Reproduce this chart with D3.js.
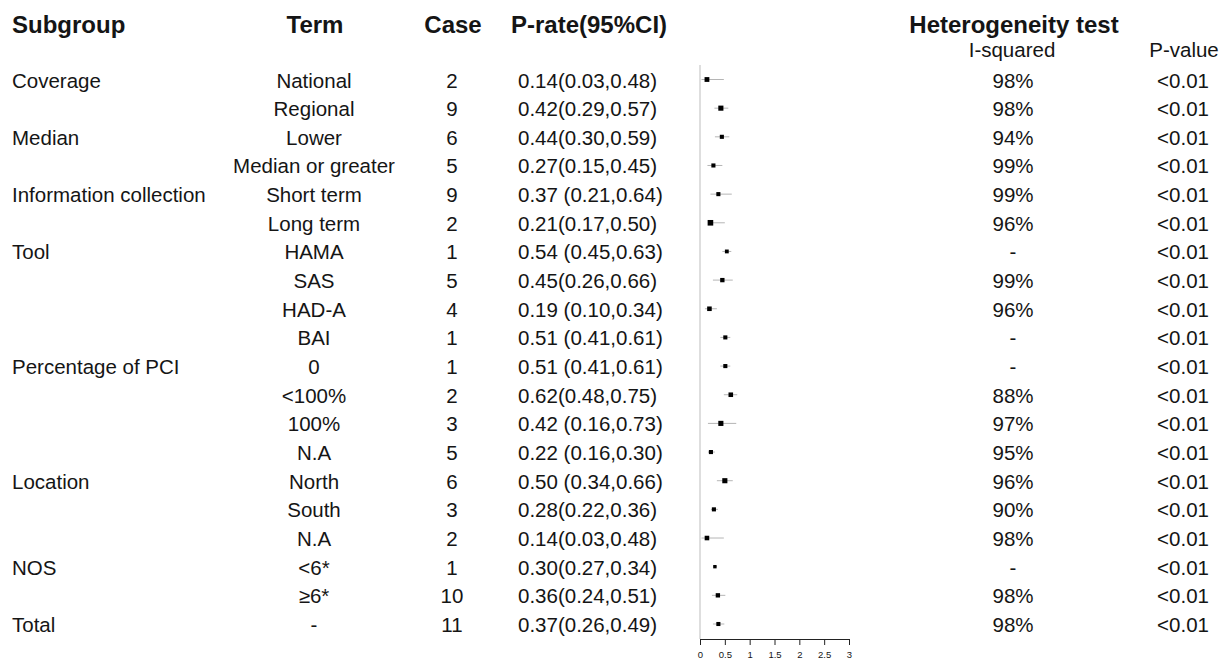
<!DOCTYPE html>
<html>
<head>
<meta charset="utf-8">
<script src="https://cdn.jsdelivr.net/npm/d3@7/dist/d3.min.js"></script>
<style>
  body { margin: 0; background: #fff; }
  svg text { font-family: "Liberation Sans", Arial, sans-serif; fill: #151515; }
</style>
</head>
<body>
<svg id="canvas" width="1226" height="662"></svg>
<script>
// rows of the subgroup table
let subgroups = ['Coverage', '', 'Median', '', 'Information collection', '', 'Tool', '', '', '',
                 'Percentage of PCI', '', '', '', 'Location', '', '', 'NOS', '', 'Total']
let terms = ['National', 'Regional', 'Lower', 'Median or greater', 'Short term', 'Long term',
             'HAMA', 'SAS', 'HAD-A', 'BAI', '0', '<100%', '100%', 'N.A', 'North', 'South', 'N.A',
             '<6*', '\u22656*', '-']
let cases = [2, 9, 6, 5, 9, 2, 1, 5, 4, 1, 1, 2, 3, 5, 6, 3, 2, 1, 10, 11]
let rates = [0.14, 0.42, 0.44, 0.27, 0.37, 0.21, 0.54, 0.45, 0.19, 0.51, 0.51, 0.62, 0.42, 0.22, 0.50, 0.28, 0.14, 0.30, 0.36, 0.37]
let lower = [0.03, 0.29, 0.30, 0.15, 0.21, 0.17, 0.45, 0.26, 0.10, 0.41, 0.41, 0.48, 0.16, 0.16, 0.34, 0.22, 0.03, 0.27, 0.24, 0.26]
let upper = [0.48, 0.57, 0.59, 0.45, 0.64, 0.50, 0.63, 0.66, 0.34, 0.61, 0.61, 0.75, 0.73, 0.30, 0.66, 0.36, 0.48, 0.34, 0.51, 0.49]
let ciLabels = ['0.14(0.03,0.48)', '0.42(0.29,0.57)', '0.44(0.30,0.59)', '0.27(0.15,0.45)', '0.37 (0.21,0.64)',
                '0.21(0.17,0.50)', '0.54 (0.45,0.63)', '0.45(0.26,0.66)', '0.19 (0.10,0.34)', '0.51 (0.41,0.61)',
                '0.51 (0.41,0.61)', '0.62(0.48,0.75)', '0.42 (0.16,0.73)', '0.22 (0.16,0.30)', '0.50 (0.34,0.66)',
                '0.28(0.22,0.36)', '0.14(0.03,0.48)', '0.30(0.27,0.34)', '0.36(0.24,0.51)', '0.37(0.26,0.49)']
let iSquared = ['98%', '98%', '94%', '99%', '99%', '96%', '-', '99%', '96%', '-', '-', '88%', '97%', '95%',
                '96%', '90%', '98%', '-', '98%', '98%']
let pValues = ['<0.01', '<0.01', '<0.01', '<0.01', '<0.01', '<0.01', '<0.01', '<0.01', '<0.01', '<0.01',
               '<0.01', '<0.01', '<0.01', '<0.01', '<0.01', '<0.01', '<0.01', '<0.01', '<0.01', '<0.01']
// relative weight of each pooled estimate (box area), read off the squares
let weights = [22, 25, 16, 16, 16, 30, 14, 18, 20, 16, 16, 20, 25, 16, 25, 16, 20, 11, 18, 16]
let axisTicks = [0, 0.5, 1, 1.5, 2, 2.5, 3]

let svg = d3.select('#canvas')

let y = d3.scalePoint()
  .domain(d3.range(terms.length))
  .range([79.5, 624])
let x = d3.scaleLinear().domain([0, 3]).range([700, 849])
let size = d3.scaleSqrt().domain([0, 30]).range([0, 5.6])

// headers
let head = svg.append('g').attr('font-weight', 'bold').attr('font-size', 24)
head.append('text').attr('x', 12).attr('y', 33).text('Subgroup')
head.append('text').attr('x', 315).attr('y', 33).attr('text-anchor', 'middle').text('Term')
head.append('text').attr('x', 453).attr('y', 33).attr('text-anchor', 'middle').text('Case')
head.append('text').attr('x', 511).attr('y', 33).text('P-rate(95%CI)')
head.append('text').attr('x', 1014).attr('y', 33).attr('text-anchor', 'middle').text('Heterogeneity test')
svg.append('text').attr('x', 1012).attr('y', 57).attr('text-anchor', 'middle').attr('font-size', 20.5).text('I-squared')
svg.append('text').attr('x', 1184).attr('y', 57).attr('text-anchor', 'middle').attr('font-size', 20.5).text('P-value')

// table body
let rows = svg.append('g').attr('font-size', 20.5)
  .selectAll('g')
  .data(terms)
  .enter()
  .append('g')
  .attr('transform', (d, i) => 'translate(0,' + (y(i) + 8) + ')')

rows.append('text').attr('x', 12).text((d, i) => subgroups[i])
rows.append('text').attr('x', 314).attr('text-anchor', 'middle').text((d) => d)
rows.append('text').attr('x', 452).attr('text-anchor', 'middle').text((d, i) => cases[i])
rows.append('text').attr('x', 518).text((d, i) => ciLabels[i])
rows.append('text').attr('x', 1013).attr('text-anchor', 'middle').text((d, i) => iSquared[i])
rows.append('text').attr('x', 1183).attr('text-anchor', 'middle').text((d, i) => pValues[i])

// forest plot
svg.append('line')
  .attr('x1', x(0)).attr('x2', x(0))
  .attr('y1', 65).attr('y2', 639)
  .attr('stroke', '#bdbdbd')

let marks = svg.append('g')
marks.selectAll('line.ci')
  .data(rates)
  .enter()
  .append('line')
  .attr('class', 'ci')
  .attr('x1', (d, i) => x(lower[i]))
  .attr('x2', (d, i) => x(upper[i]))
  .attr('y1', (d, i) => y(i))
  .attr('y2', (d, i) => y(i))
  .attr('stroke', '#b5b5b5')
  .attr('stroke-width', 1)

marks.selectAll('rect')
  .data(rates)
  .enter()
  .append('rect')
  .attr('x', (d, i) => x(d) - size(weights[i]) / 2)
  .attr('y', (d, i) => y(i) - size(weights[i]) / 2)
  .attr('width', (d, i) => size(weights[i]))
  .attr('height', (d, i) => size(weights[i]))
  .attr('fill', '#000')

let axis = svg.append('g')
  .attr('transform', 'translate(0,639)')
  .call(d3.axisBottom(x).tickValues(axisTicks).tickSize(6).tickPadding(6).tickFormat(d3.format('')))
axis.selectAll('text').attr('font-size', 9.5).attr('font-family', '"Liberation Sans", Arial, sans-serif').attr('fill', '#222')
axis.select('.domain').attr('stroke', '#222')
axis.selectAll('.tick line').attr('stroke', '#222')
</script>
</body>
</html>
